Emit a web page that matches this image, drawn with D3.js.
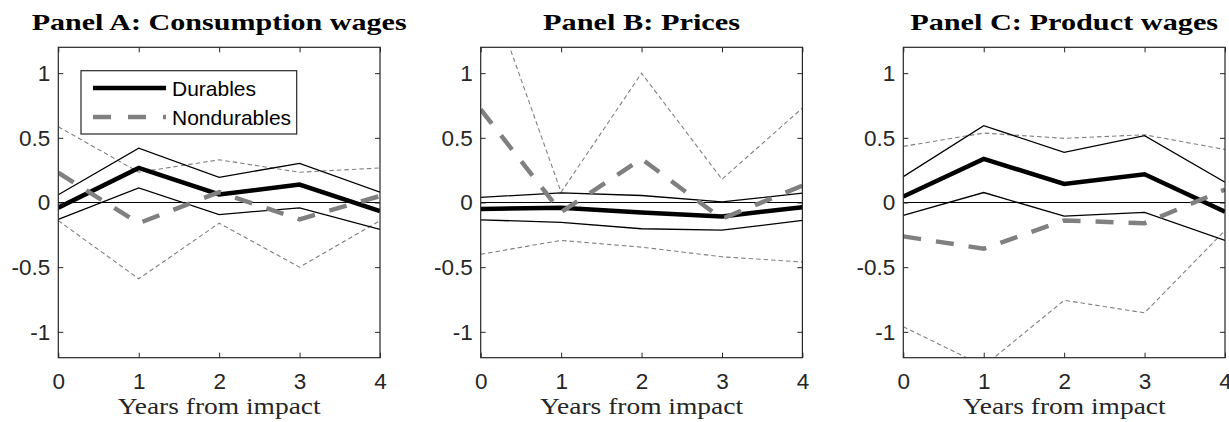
<!DOCTYPE html>
<html>
<head>
<meta charset="utf-8">
<script src="https://cdn.jsdelivr.net/npm/d3@7"></script>
<style>
  body { margin: 0; background: #fff; }
  svg { display: block; }
  .tick text { font-family: "Liberation Sans", Arial, sans-serif; font-size: 22.5px; fill: #262626; }
  .tick line { stroke: #262626; }
</style>
</head>
<body>
<div id="chart"></div>
<script>
const years = [0, 1, 2, 3, 4]
const yTicks = [-1, -0.5, 0, 0.5, 1]
const titles = ["Panel A: Consumption wages", "Panel B: Prices", "Panel C: Product wages"]
const titleWidths = [375, 197, 308]
const xLabel = "Years from impact"
const legendLabels = ["Durables", "Nondurables"]

// Panel A: consumption wages
const aDur   = [-0.04, 0.267, 0.062, 0.139, -0.067]
const aDurHi = [0.06, 0.42, 0.195, 0.303, 0.08]
const aDurLo = [-0.13, 0.113, -0.093, -0.041, -0.208]
const aNon   = [0.23, -0.16, 0.08, -0.13, 0.05]
const aNonHi = [0.586, 0.234, 0.33, 0.234, 0.267]
const aNonLo = [-0.14, -0.59, -0.16, -0.50, -0.14]

// Panel B: prices
const bDur   = [-0.05, -0.04, -0.077, -0.108, -0.036]
const bDurHi = [0.04, 0.075, 0.054, 0.005, 0.072]
const bDurLo = [-0.134, -0.154, -0.203, -0.213, -0.139]
const bNon   = [0.72, -0.075, 0.337, -0.126, 0.13]
const bNonHi = [1.83, 0.08, 1.0, 0.18, 0.73]
const bNonLo = [-0.40, -0.293, -0.345, -0.42, -0.46]

// Panel C: product wages
const cDur   = [0.046, 0.337, 0.144, 0.218, -0.072]
const cDurHi = [0.20, 0.594, 0.388, 0.517, 0.157]
const cDurLo = [-0.10, 0.077, -0.105, -0.077, -0.293]
const cNon   = [-0.262, -0.357, -0.139, -0.16, 0.10]
const cNonHi = [0.434, 0.537, 0.496, 0.524, 0.41]
const cNonLo = [-0.96, -1.265, -0.756, -0.853, -0.216]

const panels = [
	{ dur: aDur, durHi: aDurHi, durLo: aDurLo, non: aNon, nonHi: aNonHi, nonLo: aNonLo },
	{ dur: bDur, durHi: bDurHi, durLo: bDurLo, non: bNon, nonHi: bNonHi, nonLo: bNonLo },
	{ dur: cDur, durHi: cDurHi, durLo: cDurLo, non: cNon, nonHi: cNonHi, nonLo: cNonLo }
]

const W = 1229, H = 422
const LEFTS = [58.3, 480.7, 903.3]
const TOP = 47.3
const PW = 321.7, PH = 310.4

const svg = d3.select("#chart").append("svg")
	.attr("width", W)
	.attr("height", H)

const x = d3.scaleLinear().domain([0, 4]).range([0, PW])
const y = d3.scaleLinear().domain([-1.2, 1.2]).range([PH, 0])

const line = d3.line()
	.x((d, i) => x(years[i]))
	.y(d => y(d))

// MATLAB style labels: plain hyphen for negatives
const plainFmt = d => String(d)

panels.forEach(function(p, k) {
	const g = svg.append("g")
		.attr("transform", `translate(${LEFTS[k]}, ${TOP})`)

	g.append("clipPath").attr("id", "clip" + k)
		.append("rect").attr("width", PW).attr("height", PH)

	const plot = g.append("g").attr("clip-path", `url(#clip${k})`)

	// zero line
	plot.append("line")
		.attr("x1", 0).attr("x2", PW)
		.attr("y1", y(0)).attr("y2", y(0))
		.attr("stroke", "#000").attr("stroke-width", 1.2)

	// nondurables bands
	;[p.nonHi, p.nonLo].forEach(function(s) {
		plot.append("path").datum(s)
			.attr("d", line)
			.attr("fill", "none")
			.attr("stroke", "#808080")
			.attr("stroke-width", 1.1)
			.attr("stroke-dasharray", "4.5,3")
	})

	// durables bands
	;[p.durHi, p.durLo].forEach(function(s) {
		plot.append("path").datum(s)
			.attr("d", line)
			.attr("fill", "none")
			.attr("stroke", "#000")
			.attr("stroke-width", 1.3)
	})

	// durables point estimate
	plot.append("path").datum(p.dur)
		.attr("d", line)
		.attr("fill", "none")
		.attr("stroke", "#000")
		.attr("stroke-width", 4.5)

	// nondurables point estimate
	plot.append("path").datum(p.non)
		.attr("d", line)
		.attr("fill", "none")
		.attr("stroke", "#808080")
		.attr("stroke-width", 4.5)
		.attr("stroke-dasharray", "18,15")

	// axes (ticks inside)
	g.append("g")
		.call(d3.axisLeft(y).tickValues(yTicks).tickSize(-5).tickSizeOuter(0).tickPadding(8).tickFormat(plainFmt))
		.call(a => a.select(".domain").remove())
	g.append("g")
		.attr("transform", `translate(${PW}, 0)`)
		.call(d3.axisRight(y).tickValues(yTicks).tickSize(-5).tickSizeOuter(0).tickFormat(""))
		.call(a => a.select(".domain").remove())
	g.append("g")
		.attr("transform", `translate(0, ${PH})`)
		.call(d3.axisBottom(x).tickValues(years).tickSize(-5).tickSizeOuter(0).tickPadding(15).tickFormat(plainFmt))
		.call(a => a.select(".domain").remove())
	g.append("g")
		.call(d3.axisTop(x).tickValues(years).tickSize(-5).tickSizeOuter(0).tickFormat(""))
		.call(a => a.select(".domain").remove())

	g.append("rect")
		.attr("width", PW).attr("height", PH)
		.attr("fill", "none")
		.attr("stroke", "#262626")
		.attr("stroke-width", 1.2)

	// title
	svg.append("text")
		.attr("x", LEFTS[k] + PW / 2)
		.attr("y", 29.5)
		.attr("text-anchor", "middle")
		.attr("font-family", "Liberation Serif, serif")
		.attr("font-weight", "bold")
		.attr("font-size", 23)
		.attr("textLength", titleWidths[k])
		.attr("lengthAdjust", "spacingAndGlyphs")
		.text(titles[k])

	// x label
	svg.append("text")
		.attr("x", LEFTS[k] + PW / 2)
		.attr("y", 414)
		.attr("text-anchor", "middle")
		.attr("font-family", "Liberation Serif, serif")
		.attr("font-size", 24)
		.attr("fill", "#262626")
		.attr("textLength", 203)
		.attr("lengthAdjust", "spacingAndGlyphs")
		.text(xLabel)
})

// legend in panel A
const lg = svg.append("g")
lg.append("rect")
	.attr("x", 81).attr("y", 70.7)
	.attr("width", 215.7).attr("height", 63.3)
	.attr("fill", "#fff")
	.attr("stroke", "#262626")
	.attr("stroke-width", 1.2)
const legendStyles = [
	{ color: "#000", dash: null, cy: 88 },
	{ color: "#808080", dash: "18,17", cy: 117 }
]
legendStyles.forEach(function(s, i) {
	lg.append("line")
		.attr("x1", 93).attr("x2", 166)
		.attr("y1", s.cy).attr("y2", s.cy)
		.attr("stroke", s.color)
		.attr("stroke-width", 4.5)
		.attr("stroke-dasharray", s.dash)
	lg.append("text")
		.attr("x", 172)
		.attr("y", s.cy + 7.5)
		.attr("font-family", "Liberation Sans, Arial, sans-serif")
		.attr("font-size", 21)
		.attr("fill", "#000")
		.text(legendLabels[i])
})
</script>
</body>
</html>
